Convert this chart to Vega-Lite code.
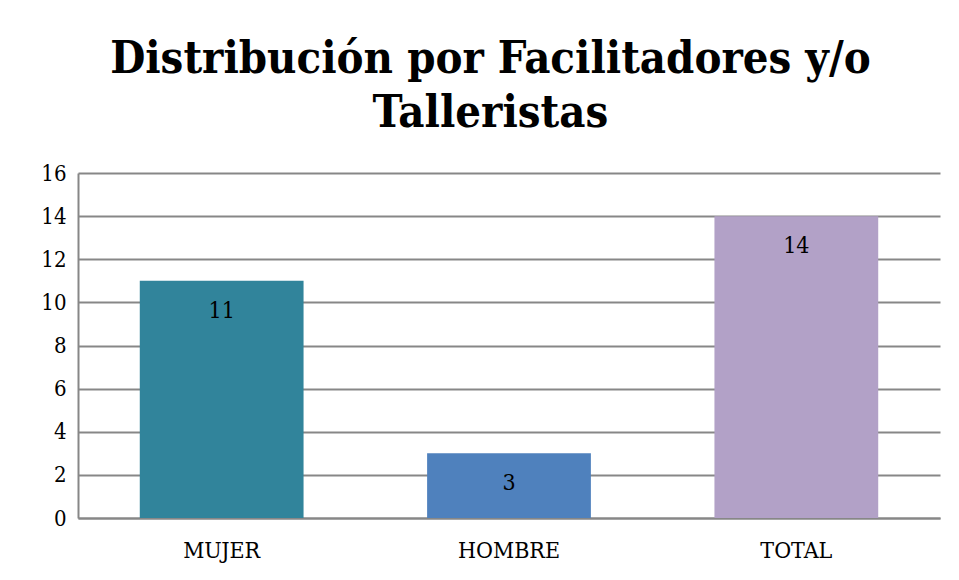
{
  "$schema": "https://vega.github.io/schema/vega-lite/v6.json",
  "width": 862,
  "height": 345,
  "autosize": {"type": "none"},
  "padding": {"left": 78, "top": 173, "right": 19, "bottom": 62},
  "background": "white",
  "title": {
    "text": ["Distribución por Facilitadores y/o", "Talleristas"],
    "font": "DejaVu Serif Condensed, Liberation Serif",
    "fontSize": 45,
    "fontWeight": "bold",
    "color": "black",
    "anchor": "middle",
    "frame": "bounds",
    "lineHeight": 54,
    "offset": 26
  },
  "data": {
    "values": [
      {"categoria": "MUJER", "valor": 11},
      {"categoria": "HOMBRE", "valor": 3},
      {"categoria": "TOTAL", "valor": 14}
    ]
  },
  "encoding": {
    "x": {
      "field": "categoria",
      "type": "nominal",
      "sort": null,
      "scale": {"paddingInner": 0.43, "paddingOuter": 0.215},
      "axis": {
        "title": null,
        "labelAngle": 0,
        "ticks": false,
        "labelFont": "DejaVu Serif Condensed, Liberation Serif",
        "labelFontSize": 23,
        "labelColor": "black",
        "labelPadding": 21,
        "domainColor": "#878787",
        "domainWidth": 2
      }
    },
    "y": {
      "field": "valor",
      "type": "quantitative",
      "scale": {"domain": [0, 16]},
      "axis": {
        "title": null,
        "values": [0, 2, 4, 6, 8, 10, 12, 14, 16],
        "ticks": false,
        "labelFont": "DejaVu Serif Condensed, Liberation Serif",
        "labelFontSize": 22,
        "labelColor": "black",
        "labelPadding": 12,
        "domainColor": "#878787",
        "domainWidth": 2,
        "gridColor": "#878787",
        "gridWidth": 2
      }
    }
  },
  "layer": [
    {
      "mark": {"type": "bar"},
      "encoding": {
        "color": {
          "field": "categoria",
          "type": "nominal",
          "scale": {"domain": ["MUJER", "HOMBRE", "TOTAL"], "range": ["#31849B", "#4F81BD", "#B2A1C7"]},
          "legend": null
        }
      }
    },
    {
      "mark": {"type": "text", "baseline": "middle", "dy": 30, "font": "DejaVu Serif Condensed, Liberation Serif", "fontSize": 23, "color": "black"},
      "encoding": {"text": {"field": "valor", "type": "quantitative"}}
    }
  ],
  "config": {"view": {"stroke": null}}
}
